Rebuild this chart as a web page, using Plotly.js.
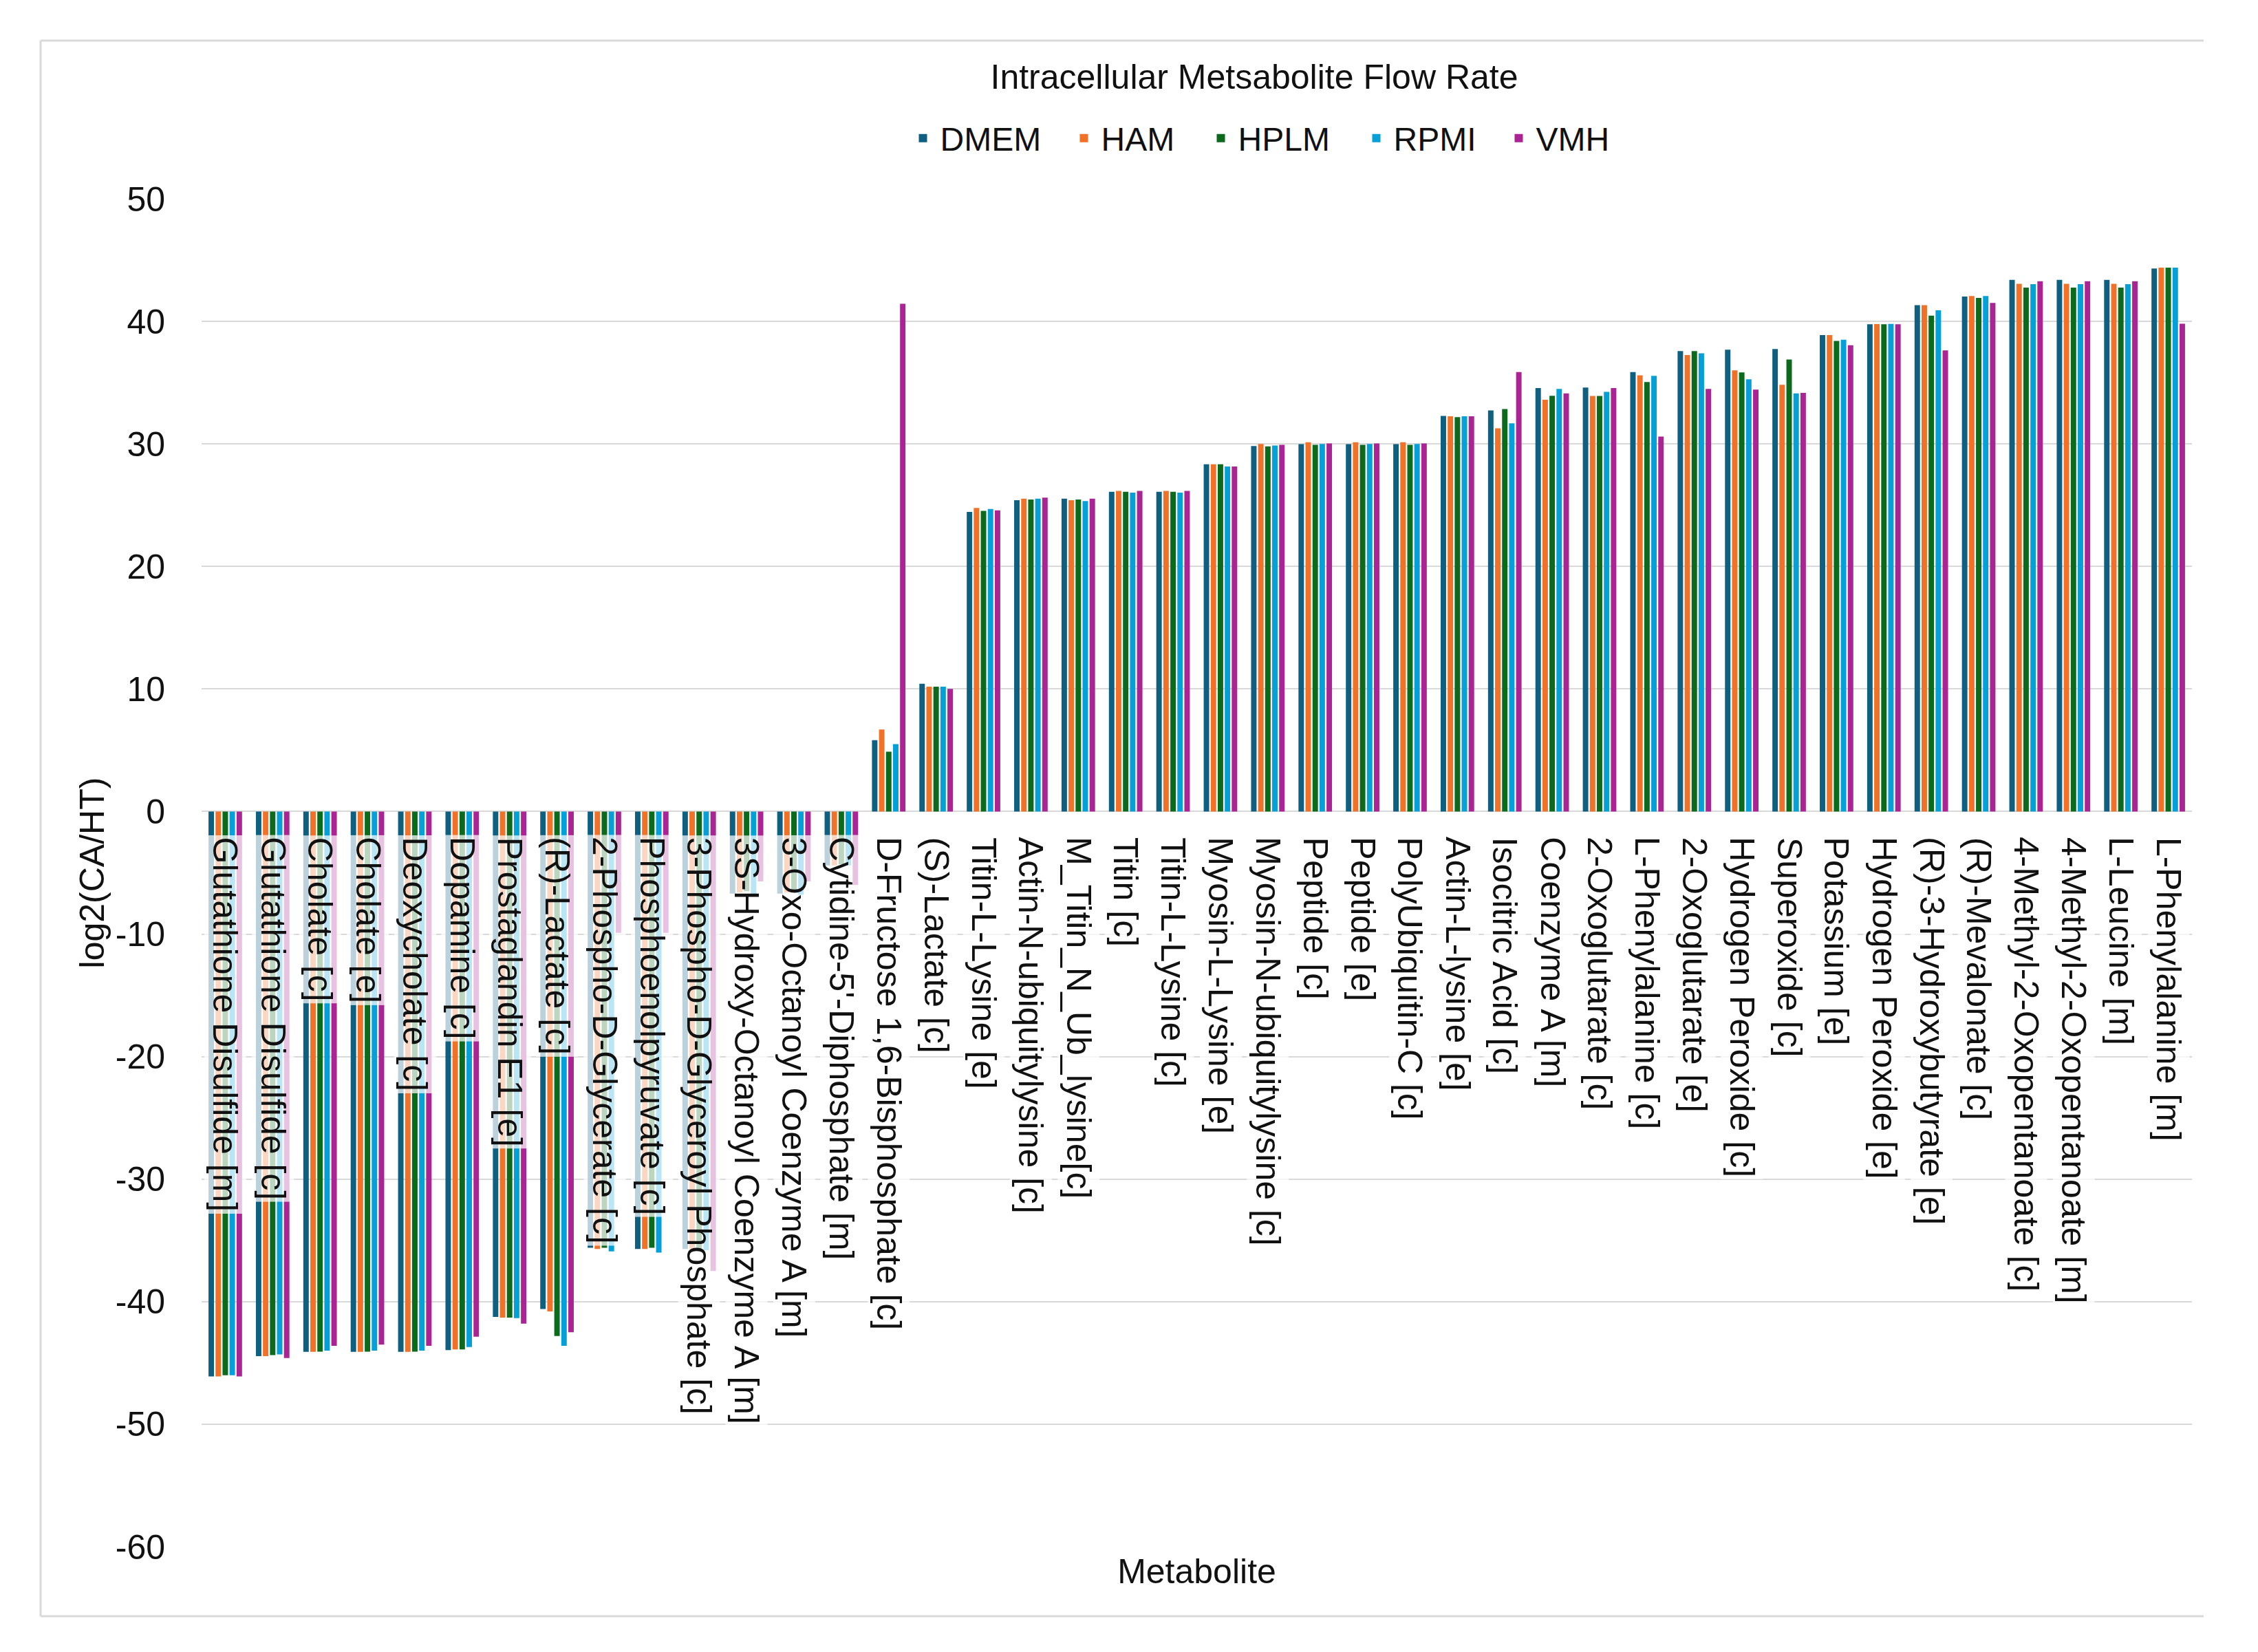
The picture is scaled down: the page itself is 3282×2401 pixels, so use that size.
<!DOCTYPE html>
<html><head><meta charset="utf-8">
<script src="https://cdn.plot.ly/plotly-3.0.1.min.js"></script>
<style>html,body{margin:0;padding:0;background:#fff}#chart{width:3282px;height:2401px}</style>
</head><body><div id="chart"></div>
<script>
const categories = [
  "Glutathione Disulfide [m]","Glutathione Disulfide [c]","Cholate [c]","Cholate [e]","Deoxycholate [c]",
  "Dopamine [c]","Prostaglandin E1 [e]","(R)-Lactate [c]","2-Phospho-D-Glycerate [c]","Phosphoenolpyruvate [c]",
  "3-Phospho-D-Glyceroyl Phosphate [c]","3S-Hydroxy-Octanoyl Coenzyme A [m]","3-Oxo-Octanoyl Coenzyme A [m]",
  "Cytidine-5'-Diphosphate [m]","D-Fructose 1,6-Bisphosphate [c]","(S)-Lactate [c]","Titin-L-Lysine [e]",
  "Actin-N-ubiquitylysine [c]","M_Titin_N_Ub_lysine[c]","Titin [c]","Titin-L-Lysine [c]","Myosin-L-Lysine [e]",
  "Myosin-N-ubiquitylysine [c]","Peptide [c]","Peptide [e]","PolyUbiquitin-C [c]","Actin-L-lysine [e]",
  "Isocitric Acid [c]","Coenzyme A [m]","2-Oxoglutarate [c]","L-Phenylalanine [c]","2-Oxoglutarate [e]",
  "Hydrogen Peroxide [c]","Superoxide [c]","Potassium [e]","Hydrogen Peroxide [e]","(R)-3-Hydroxybutyrate [e]",
  "(R)-Mevalonate [c]","4-Methyl-2-Oxopentanoate [c]","4-Methyl-2-Oxopentanoate [m]","L-Leucine [m]","L-Phenylalanine [m]"
];
const DMEM = [-46.1,-44.45,-44.1,-44.1,-44.1,-43.95,-41.25,-40.6,-35.6,-35.7,-35.7,-6.7,-6.7,-4.4,5.83,10.43,24.45,25.4,25.53,26.09,26.09,28.34,29.83,29.98,29.98,29.98,32.29,32.74,34.56,34.6,35.87,37.58,37.69,37.75,38.88,39.76,41.32,42.03,43.39,43.39,43.39,44.32];
const HAM  = [-46.1,-44.45,-44.1,-44.1,-44.1,-43.9,-41.3,-40.8,-35.7,-35.7,-35.7,-6.6,-6.6,-4.4,6.7,10.19,24.77,25.53,25.4,26.16,26.16,28.34,30.0,30.13,30.13,30.13,32.25,31.28,33.61,33.91,35.6,37.26,36.01,34.82,38.88,39.78,41.32,42.07,43.07,43.07,43.07,44.39];
const HPLM = [-46.0,-44.36,-44.08,-44.08,-44.08,-43.9,-41.3,-42.8,-35.6,-35.6,-35.7,-6.5,-6.5,-4.3,4.88,10.19,24.54,25.46,25.46,26.09,26.09,28.34,29.8,29.93,29.93,29.93,32.18,32.85,33.93,33.91,35.05,37.58,35.83,36.89,38.4,39.76,40.47,41.92,42.76,42.76,42.76,44.39];
const RPMI = [-46.0,-44.3,-44.0,-44.0,-44.0,-43.7,-41.35,-43.6,-35.9,-36.0,-35.8,-6.8,-6.8,-4.4,5.5,10.19,24.69,25.53,25.34,26.03,26.03,28.16,29.87,30.0,30.0,30.0,32.25,31.68,34.49,34.25,35.55,37.39,35.27,34.13,38.51,39.8,40.91,42.07,43.04,43.04,43.04,44.39];
const VMH  = [-46.1,-44.6,-43.6,-43.5,-43.6,-42.86,-41.8,-42.5,-9.9,-9.9,-37.5,-5.7,-5.7,-6.0,41.43,10.0,24.58,25.62,25.53,26.16,26.16,28.16,29.93,30.04,30.04,30.04,32.25,35.87,34.12,34.56,30.6,34.49,34.43,34.17,38.06,39.76,37.63,41.51,43.28,43.28,43.28,39.81];
const seriesNames = ["DMEM","HAM","HPLM","RPMI","VMH"];
const yTickVals = [-60,-50,-40,-30,-20,-10,0,10,20,30,40,50];
const yTickText = ["-60","-50","-40","-30","-20","-10","0","10","20","30","40","50"];

const seriesColors = ["#0E5F80","#F07128","#0B6A1C","#06A0D8","#AA2494"];
const legendWidths = [179, 144, 171, 152, 110];

const FONT = "Liberation Sans, Arial, sans-serif";
const W = 3282, H = 2401;
const M = {l:293, r:96, t:289, b:153};
const PW = W - M.l - M.r, PH = H - M.t - M.b;

const data = [DMEM, HAM, HPLM, RPMI, VMH].map((vals, i) => ({
  type: 'bar', name: seriesNames[i], x: categories, y: vals,
  marker: {color: seriesColors[i]}, hoverinfo: 'skip', legendwidth: legendWidths[i]
}));

const annotations = categories.map(c => ({
  x: c, y: 0, xref: 'x', yref: 'y', text: c, textangle: 90, showarrow: false,
  xanchor: 'center', yanchor: 'top', yshift: -34,
  bgcolor: 'rgba(255,255,255,0.72)', borderpad: 2,
  font: {family: FONT, size: 50, color: '#111'}
}));

const px2paperX = p => (p - M.l) / PW;
const px2paperY = p => (H - M.b - p) / PH;
const border = {color: '#D9D9D9', width: 3};
const bx0 = px2paperX(59), bx1 = px2paperX(3203), by0 = px2paperY(2349), by1 = px2paperY(59);

const layout = {
  width: W, height: H, margin: M,
  paper_bgcolor: '#fff', plot_bgcolor: '#fff',
  barmode: 'group', bargap: 0.26, bargroupgap: 0.22,
  font: {family: FONT, size: 50, color: '#111'},
  showlegend: true,
  title: {text: 'Intracellular Metsabolite Flow Rate', xref: 'container', x: 1823 / W, xanchor: 'center',
          yref: 'container', y: 1 - 111 / H, yanchor: 'middle', font: {family: FONT, size: 50, color: '#111'}},
  legend: {orientation: 'h', x: px2paperX(1832), xanchor: 'center', y: px2paperY(201), yanchor: 'middle',
           itemwidth: 40, font: {family: FONT, size: 48, color: '#111'}, traceorder: 'normal', bgcolor: 'rgba(0,0,0,0)'},
  xaxis: {type: 'category', range: [-0.5, categories.length - 0.5], showticklabels: false, ticks: '',
          showgrid: false, zeroline: false, showline: false, fixedrange: true,
          title: {text: 'Metabolite', standoff: 17, font: {family: FONT, size: 50, color: '#111'}}},
  yaxis: {range: [-60, 50], tickmode: 'array', tickvals: yTickVals, ticktext: yTickText,
          showgrid: true, gridcolor: '#D9D9D9', gridwidth: 2,
          zeroline: true, zerolinecolor: '#D9D9D9', zerolinewidth: 2, showline: false, ticks: '',
          ticklabelstandoff: 52, tickfont: {family: FONT, size: 50, color: '#111'}, fixedrange: true,
          title: {text: 'log2(CA/HT)', standoff: 0, font: {family: FONT, size: 50, color: '#111'}}},
  shapes: [
    {type: 'line', xref: 'paper', yref: 'paper', x0: bx0, x1: bx1, y0: by1, y1: by1, line: border, layer: 'below'},
    {type: 'line', xref: 'paper', yref: 'paper', x0: bx0, x1: bx1, y0: by0, y1: by0, line: border, layer: 'below'},
    {type: 'line', xref: 'paper', yref: 'paper', x0: bx0, x1: bx0, y0: by0, y1: by1, line: border, layer: 'below'}
  ],
  annotations: annotations
};

Plotly.newPlot('chart', data, layout, {displayModeBar: false, staticPlot: true});
</script>
</body></html>
